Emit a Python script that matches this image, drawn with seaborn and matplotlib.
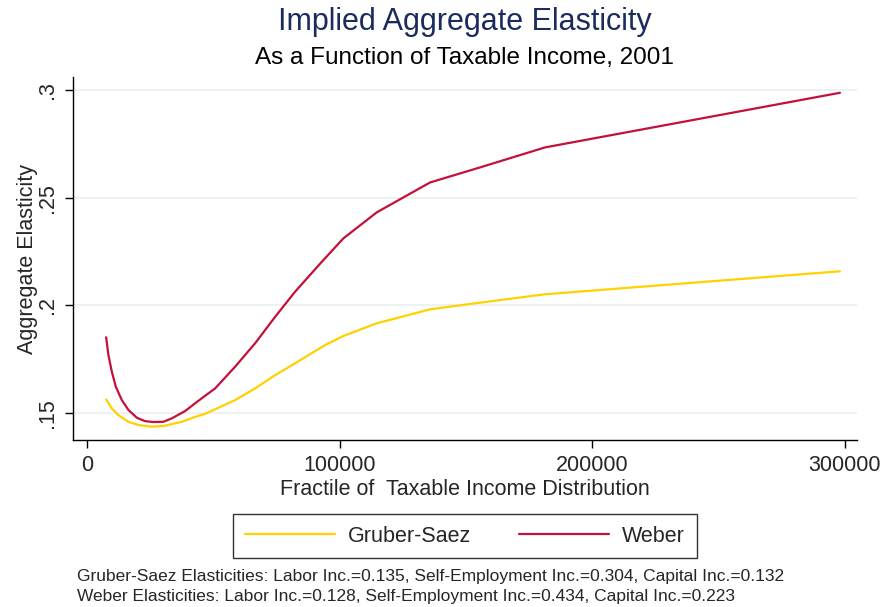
import pandas as pd
import matplotlib
matplotlib.use("Agg")
import matplotlib.pyplot as plt
import seaborn as sns

# values
weber_x = [7410, 8320, 9670, 11250, 13630, 16240, 19570, 22860, 26150, 30110,
           33440, 38710, 42670, 46630, 50590, 58520, 66440, 74370, 82290, 92870,
           101430, 114660, 135780, 155590, 181340, 298200]
weber_y = [0.1851, 0.1768, 0.1691, 0.1621, 0.1559, 0.1513, 0.1477, 0.1461, 0.1457, 0.1458,
           0.1474, 0.1508, 0.1544, 0.1579, 0.1613, 0.1714, 0.1823, 0.1946, 0.2063, 0.2202,
           0.2311, 0.2432, 0.2571, 0.2641, 0.2734, 0.2988]

gs_x = [7410, 9670, 12280, 16240, 20210, 25520, 30780, 37400, 42670, 46630,
        50590, 58520, 66440, 74370, 82290, 94180, 101430, 114660, 135780, 155590,
        181340, 298200]
gs_y = [0.1562, 0.1520, 0.1489, 0.1458, 0.1443, 0.1435, 0.1440, 0.1458, 0.1481, 0.1495,
        0.1516, 0.1559, 0.1613, 0.1675, 0.1730, 0.1815, 0.1857, 0.1916, 0.1981, 0.2012,
        0.2051, 0.2158]

y_ticks = [0.15, 0.2, 0.25, 0.3]
y_labels = [".15", ".2", ".25", ".3"]
x_ticks = [0, 100000, 200000, 300000]
x_labels = ["0", "100000", "200000", "300000"]

notes = [
    "Gruber-Saez Elasticities: Labor Inc.=0.135, Self-Employment Inc.=0.304, Capital Inc.=0.132",
    "Weber Elasticities: Labor Inc.=0.128, Self-Employment Inc.=0.434, Capital Inc.=0.223",
]

df = pd.concat([
    pd.DataFrame({"income": gs_x, "elasticity": gs_y, "series": "Gruber-Saez"}),
    pd.DataFrame({"income": weber_x, "elasticity": weber_y, "series": "Weber"}),
])

sns.set_style("white")
plt.rcParams["font.family"] = ["Liberation Sans", "DejaVu Sans"]

fig = plt.figure(figsize=(8.8, 6.07), dpi=100)
ax = fig.add_axes([0.083, 0.275, 0.891, 0.598])

sns.lineplot(data=df, x="income", y="elasticity", hue="series",
             palette={"Gruber-Saez": "#ffd100", "Weber": "#c4103a"},
             linewidth=1.6, ax=ax, legend=False, sort=True, estimator=None)

ax.set_xlim(-5700, 305000)
ax.set_ylim(0.1373, 0.3061)
ax.set_yticks(y_ticks)
ax.set_yticklabels(y_labels)
ax.set_xticks(x_ticks)
ax.set_xticklabels(x_labels)

ax.grid(axis="y", color="#e8f0f2", linewidth=1.2)
ax.grid(axis="x", visible=False)
for side in ["top", "right"]:
    ax.spines[side].set_visible(False)
for side in ["left", "bottom"]:
    ax.spines[side].set_color("black")
    ax.spines[side].set_linewidth(1.0)

ax.tick_params(axis="both", direction="out", length=6, width=1, color="black",
               labelsize=15.5, pad=5, left=True, bottom=True)
for lab in ax.get_yticklabels():
    lab.set_rotation(90)
    lab.set_va("center")

ax.set_xlabel("Fractile of  Taxable Income Distribution", fontsize=15.5, labelpad=2)
ax.set_ylabel("Aggregate Elasticity", fontsize=15.5, labelpad=-1)

fig.text(0.528, 1 - 22 / 607, "Implied Aggregate Elasticity", ha="center", va="center",
         fontsize=22, color="#1a2b5c")
fig.text(0.528, 1 - 58 / 607, "As a Function of Taxable Income, 2001", ha="center",
         va="center", fontsize=17.5, color="black")

handles = [plt.Line2D([], [], color="#ffd100", linewidth=1.6),
           plt.Line2D([], [], color="#c4103a", linewidth=1.6)]
leg = fig.legend(handles, ["Gruber-Saez", "Weber"], loc="center",
                 bbox_to_anchor=(0.528, 1 - 536 / 607), ncol=2, fontsize=15.5,
                 frameon=True, fancybox=False, edgecolor="black", handlelength=4.2,
                 columnspacing=2.2, handletextpad=0.6, borderpad=0.55, borderaxespad=0)
leg.get_frame().set_linewidth(1.0)

fig.text(0.0875, 1 - 577 / 607, notes[0], ha="left", va="center", fontsize=12.5)
fig.text(0.0875, 1 - 597 / 607, notes[1], ha="left", va="center", fontsize=12.5)

fig.savefig("out.png", dpi=100, facecolor="white")
